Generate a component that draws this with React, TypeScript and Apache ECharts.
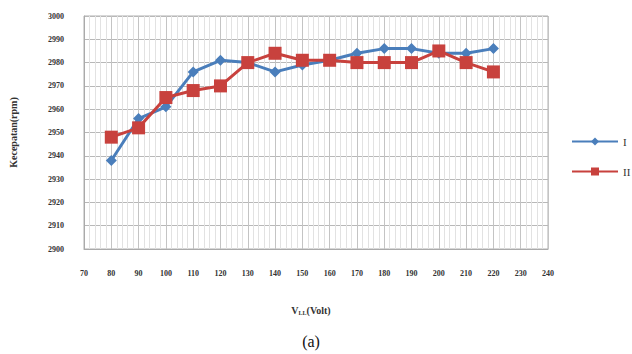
import React, { useEffect, useRef } from "react";
import * as echarts from "echarts";

// Line voltage (V) against motor speed (rpm) for two cases
const voltage = [80, 90, 100, 110, 120, 130, 140, 150, 160, 170, 180, 190, 200, 210, 220];
const speedI = [2938, 2956, 2961, 2976, 2981, 2980, 2976, 2979, 2981, 2984, 2986, 2986, 2984, 2984, 2986];
const speedII = [2948, 2952, 2965, 2968, 2970, 2980, 2984, 2981, 2981, 2980, 2980, 2980, 2985, 2980, 2976];
const seriesNames = ["I", "II"];

const SERIF = "'Liberation Serif', 'DejaVu Serif', serif";

export default function App() {
  const ref = useRef<HTMLDivElement>(null);

  useEffect(() => {
    if (!ref.current) return;
    const chart = echarts.init(ref.current, undefined, { renderer: "svg" });
    const axisLabel = { fontSize: 8, fontFamily: SERIF, color: "#333", fontWeight: "bold" as const };
    chart.setOption({
      animation: false,
      backgroundColor: "#fff",
      grid: {
        left: 83,
        right: 84,
        top: 16,
        bottom: 105,
        containLabel: false,
        show: true,
        borderColor: "#b0b0b0",
        borderWidth: 1,
      },
      xAxis: {
        type: "value",
        min: 70,
        max: 240,
        interval: 10,
        axisLine: { show: true, lineStyle: { color: "#aaa" } },
        axisTick: { show: false },
        axisLabel: { ...axisLabel, margin: 20 },
        splitLine: { show: true, lineStyle: { color: "#c4c4c4", width: 1 } },
        minorTick: { show: false, splitNumber: 5 },
        minorSplitLine: { show: true, lineStyle: { color: "#e2e2e2", width: 1 } },
      },
      yAxis: {
        type: "value",
        min: 2900,
        max: 3000,
        interval: 10,
        name: "Kecepatan(rpm)",
        nameLocation: "middle",
        nameGap: 66,
        nameTextStyle: { fontFamily: SERIF, fontSize: 10, fontWeight: "bold", color: "#333" },
        axisLine: { show: true, lineStyle: { color: "#aaa" } },
        axisTick: { show: false },
        axisLabel: { ...axisLabel, margin: 20, formatter: (v: number) => String(v) },
        splitLine: { show: true, lineStyle: { color: "#b8b8b8", width: 1 } },
      },
      legend: {
        data: seriesNames,
        orient: "vertical",
        left: 566,
        top: 131,
        itemWidth: 46,
        itemHeight: 10,
        itemGap: 19,
        itemTextGap: 5,
        textStyle: { fontFamily: SERIF, fontSize: 11, color: "#333" },
      },
      series: [
        {
          name: seriesNames[0],
          type: "line",
          data: voltage.map((v, i) => [v, speedI[i]]),
          symbol: "diamond",
          symbolSize: 11,
          itemStyle: { color: "#4a7ebb" },
          lineStyle: { color: "#4a7ebb", width: 3 },
          z: 2,
        },
        {
          name: seriesNames[1],
          type: "line",
          data: voltage.map((v, i) => [v, speedII[i]]),
          symbol: "rect",
          symbolSize: 13,
          itemStyle: { color: "#c8413d" },
          lineStyle: { color: "#c8413d", width: 3 },
          z: 3,
        },
      ],
      graphic: [
        {
          type: "text",
          x: 311,
          y: 310,
          style: {
            text: "{v|V}{s|LL}{v|(Volt)}",
            align: "center",
            verticalAlign: "middle",
            rich: {
              v: { fontFamily: SERIF, fontSize: 10, fontWeight: "bold", fill: "#333" },
              s: { fontFamily: SERIF, fontSize: 6, fontWeight: "bold", fill: "#333", padding: [5, 0, 0, 0] },
            },
          },
        },
        {
          type: "text",
          x: 311,
          y: 341,
          style: {
            text: "(a)",
            align: "center",
            verticalAlign: "middle",
            fontFamily: SERIF,
            fontSize: 16,
            fill: "#111",
          },
        },
      ],
    });
    return () => chart.dispose();
  }, []);

  return <div ref={ref} style={{ width: 632, height: 354, position: "absolute", left: 0, top: 0 }} />;
}
